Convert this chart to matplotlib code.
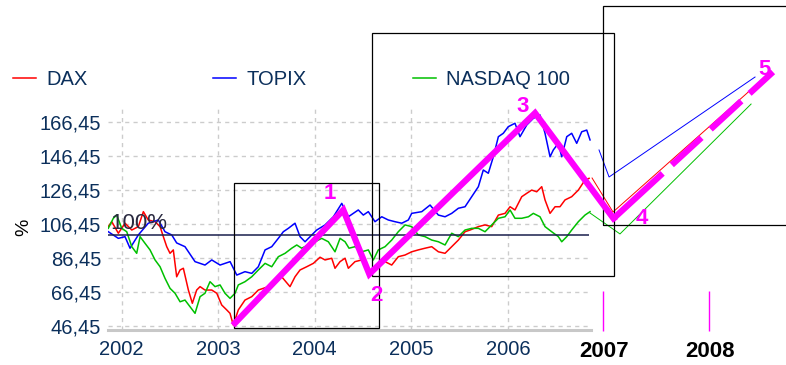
import matplotlib.pyplot as plt
from matplotlib.lines import Line2D
from matplotlib.patches import Rectangle

plt.rcParams['font.family'] = ['Liberation Sans', 'DejaVu Sans']
plt.rcParams['lines.scale_dashes'] = False

# ===================== data (decimal year, % of start) =====================
topix_t = [2001.863, 2001.967, 2002.036, 2002.088, 2002.174, 2002.277, 2002.381, 2002.450, 2002.520,
           2002.571, 2002.657, 2002.761, 2002.864, 2002.934, 2003.020, 2003.124, 2003.193, 2003.278,
           2003.348, 2003.416, 2003.486, 2003.555, 2003.623, 2003.675, 2003.727, 2003.796, 2003.848,
           2003.900, 2003.969, 2004.021, 2004.107, 2004.193, 2004.280, 2004.348, 2004.451, 2004.503,
           2004.555, 2004.624, 2004.694, 2004.762, 2004.831, 2004.901, 2004.969, 2005.004, 2005.108,
           2005.194, 2005.280, 2005.349, 2005.418, 2005.487, 2005.556, 2005.625, 2005.694, 2005.745,
           2005.797, 2005.849, 2005.901, 2005.952, 2006.004, 2006.073, 2006.125, 2006.195, 2006.263,
           2006.332, 2006.384, 2006.436, 2006.470, 2006.522, 2006.557, 2006.609, 2006.660, 2006.712,
           2006.764, 2006.816, 2006.850]
topix_v = [101.9, 98.0, 99.0, 92.2, 100.0, 106.9, 108.8, 101.9, 100.0,
           95.3, 93.1, 84.3, 82.3, 85.3, 82.3, 84.3, 76.4, 78.4,
           77.4, 81.3, 91.2, 93.1, 98.0, 101.9, 103.9, 106.9, 99.0,
           96.0, 100.0, 102.9, 105.9, 110.7, 118.6, 110.7, 114.7, 111.7,
           113.7, 107.8, 110.7, 108.8, 107.8, 106.9, 108.8, 112.7, 113.7,
           117.6, 111.7, 110.7, 112.7, 115.7, 116.6, 122.5, 128.4, 138.2,
           136.3, 146.0, 157.8, 159.8, 163.7, 165.7, 157.8, 164.7, 168.6,
           170.6, 159.8, 146.0, 150.0, 153.9, 146.0, 157.8, 159.8, 153.9,
           160.7, 161.7, 155.9]

dax_t = [2001.863, 2001.899, 2001.967, 2002.036, 2002.106, 2002.174, 2002.226, 2002.277, 2002.347,
         2002.399, 2002.433, 2002.468, 2002.502, 2002.536, 2002.571, 2002.606, 2002.640, 2002.692,
         2002.733, 2002.778, 2002.813, 2002.864, 2002.934, 2002.986, 2003.037, 2003.089, 2003.123,
         2003.157, 2003.209, 2003.278, 2003.348, 2003.416, 2003.520, 2003.589, 2003.658, 2003.744,
         2003.796, 2003.848, 2003.917, 2003.986, 2004.055, 2004.107, 2004.176, 2004.210, 2004.262,
         2004.314, 2004.348, 2004.417, 2004.487, 2004.555, 2004.590, 2004.658, 2004.728, 2004.797,
         2004.865, 2004.935, 2005.004, 2005.072, 2005.142, 2005.211, 2005.280, 2005.349, 2005.418,
         2005.487, 2005.556, 2005.608, 2005.694, 2005.763, 2005.832, 2005.901, 2005.970, 2006.022,
         2006.073, 2006.143, 2006.195, 2006.246, 2006.298, 2006.350, 2006.384, 2006.436, 2006.488,
         2006.539, 2006.591, 2006.660, 2006.729, 2006.798, 2006.840]
dax_v = [104.9, 107.8, 101.0, 106.9, 102.9, 104.9, 113.7, 108.8, 107.8,
         104.9, 99.0, 93.1, 89.2, 91.2, 75.4, 79.4, 80.4, 67.6,
         59.8, 67.6, 69.6, 67.6, 67.6, 65.7, 58.8, 55.9, 53.9,
         47.0, 55.9, 61.7, 63.7, 67.6, 69.6, 72.5, 75.4, 69.6,
         75.4, 79.4, 81.3, 83.3, 86.9, 85.3, 86.3, 80.4, 84.3,
         86.3, 80.4, 84.3, 85.3, 80.4, 77.4, 83.3, 84.3, 82.3,
         87.2, 88.2, 90.1, 91.2, 92.2, 93.1, 90.1, 89.2, 93.1,
         97.0, 101.9, 102.9, 104.9, 105.9, 104.9, 111.7, 112.7, 116.6,
         114.7, 122.5, 124.5, 126.4, 125.4, 128.4, 120.6, 112.7, 116.6,
         116.6, 120.6, 122.5, 126.4, 132.3, 133.3]

nasdaq_t = [2001.863, 2001.915, 2001.950, 2002.002, 2002.054, 2002.106, 2002.157, 2002.192, 2002.243,
            2002.295, 2002.347, 2002.399, 2002.450, 2002.502, 2002.554, 2002.606, 2002.657, 2002.709,
            2002.761, 2002.813, 2002.864, 2002.916, 2002.968, 2003.020, 2003.071, 2003.123, 2003.175,
            2003.209, 2003.278, 2003.348, 2003.416, 2003.486, 2003.555, 2003.623, 2003.693, 2003.762,
            2003.814, 2003.865, 2003.934, 2004.003, 2004.072, 2004.141, 2004.210, 2004.262, 2004.314,
            2004.355, 2004.417, 2004.487, 2004.555, 2004.607, 2004.658, 2004.728, 2004.797, 2004.865,
            2004.935, 2005.004, 2005.072, 2005.142, 2005.211, 2005.280, 2005.349, 2005.418, 2005.487,
            2005.556, 2005.625, 2005.694, 2005.763, 2005.832, 2005.901, 2005.970, 2006.022, 2006.073,
            2006.143, 2006.212, 2006.263, 2006.332, 2006.384, 2006.453, 2006.522, 2006.557, 2006.609,
            2006.660, 2006.729, 2006.798, 2006.850]
nasdaq_v = [103.9, 109.8, 111.7, 103.9, 101.9, 93.1, 89.2, 99.0, 95.1,
            91.2, 85.3, 81.3, 74.5, 68.6, 65.7, 60.7, 61.7, 57.8,
            53.9, 63.7, 65.7, 72.5, 69.6, 70.6, 65.7, 62.7, 65.7,
            70.6, 72.5, 75.4, 79.4, 83.3, 81.3, 87.2, 89.2, 92.2,
            94.1, 92.2, 94.1, 96.0, 98.0, 96.0, 90.1, 98.0, 96.0,
            92.2, 93.1, 90.1, 91.2, 85.3, 91.2, 93.1, 97.0, 101.9,
            105.9, 104.9, 100.0, 99.0, 97.0, 96.0, 94.1, 101.0, 99.0,
            102.9, 103.9, 103.9, 101.9, 105.9, 109.8, 110.7, 114.7, 109.8,
            109.8, 110.7, 112.7, 110.7, 104.9, 101.9, 99.0, 96.0, 99.0,
            102.9, 107.8, 111.7, 113.7]

# hand drawn projections after the data end
topix_proj_t = [2006.943, 2007.047, 2008.558]
topix_proj_v = [150.0, 134.1, 192.9]
dax_proj_t = [2006.871, 2007.088, 2008.558]
dax_proj_v = [133.5, 113.5, 187.6]
nasdaq_proj_t = [2006.850, 2007.160, 2008.517]
nasdaq_proj_v = [112.9, 100.6, 177.0]

# Elliott waves
wave_t = [2003.175, 2004.296, 2004.565, 2006.281, 2007.093, 2008.744]
wave_v = [48.2, 114.7, 77.0, 171.7, 109.7, 195.9]
wave_labels = ['', '1', '2', '3', '4', '5']

# boxes: (t0, t1, v0, v1)
boxes = [(2003.165, 2004.666, 45.3, 130.4),
         (2004.588, 2007.098, 76.0, 218.6),
         (2006.988, 2009.2, 105.7, 234.5)]

future_years = ['2007', '2008']
future_x = [2006.98, 2008.08]

yticks = [46.45, 66.45, 86.45, 106.45, 126.45, 146.45, 166.45]
xticks = [2002, 2003, 2004, 2005, 2006]

NAVY = '#0b2f5b'
MAG = '#ff00ff'

# ===================== figure =====================
fig = plt.figure(figsize=(7.86, 3.65), dpi=100)
ax = fig.add_axes([108 / 786, 35 / 365, 483 / 786, 222 / 365])
ax.set_xlim(2001.86, 2006.86)
ax.set_ylim(44.09, 174.68)

ax.set_yticks(yticks)
ax.set_yticklabels([f'{v:.2f}'.replace('.', ',') for v in yticks])
ax.set_xticks(xticks)
ax.set_xticklabels([str(y) for y in xticks])
ax.tick_params(length=0, labelsize=14.5, labelcolor=NAVY)
ax.tick_params(axis='x', pad=7)
ax.tick_params(axis='y', pad=5)
ax.grid(True, color='#cccccc', linestyle=(0, (3, 3)), lw=1)
ax.set_axisbelow(True)
for s in ['top', 'right', 'left']:
    ax.spines[s].set_visible(False)
ax.spines['bottom'].set_color('#c8c8c8')
ax.spines['bottom'].set_linewidth(2.2)

ax.set_ylabel('%', fontsize=14, color='black')
ax.yaxis.set_label_coords(-0.157, 0.464)

# series
series = [('DAX', dax_t, dax_v, dax_proj_t, dax_proj_v, '#ff0000'),
          ('TOPIX', topix_t, topix_v, topix_proj_t, topix_proj_v, '#0000ff'),
          ('NASDAQ 100', nasdaq_t, nasdaq_v, nasdaq_proj_t, nasdaq_proj_v, '#00c000')]
for name, t, v, pt, pv, c in series:
    ax.plot(t, v, color=c, lw=1.1, zorder=2)
    ax.plot(pt, pv, color=c, lw=0.7, zorder=2, clip_on=False)

ax.hlines(100, min(dax_t), max(dax_t), color='#1a1f4d', lw=1.1, zorder=3)
ax.text(2002.176, 106.5, '100%', fontsize=16, color='#2a2a40',
        ha='center', va='center', zorder=5)

for t0, t1, v0, v1 in boxes:
    ax.add_patch(Rectangle((t0, v0), t1 - t0, v1 - v0, fill=False, ec='black',
                           lw=0.9, zorder=3, clip_on=False))

# waves
ax.plot(wave_t[:5], wave_v[:5], color=MAG, lw=4.5, solid_joinstyle='miter',
        zorder=4, clip_on=False)
ax.plot(wave_t[4:], wave_v[4:], color=MAG, lw=4.5, zorder=4, clip_on=False,
        linestyle=(0, (48, 9, 29, 9, 30, 8, 60, 10)))
offsets = [(0, 0), (-9.4, 13.7), (4.8, -13.7), (-8.6, 6.5), (20.5, 1.8), (-5.8, 3.6)]
for t, v, lab, off in zip(wave_t, wave_v, wave_labels, offsets):
    if lab:
        ax.annotate(lab, (t, v), xytext=off, textcoords='offset points', color=MAG,
                    fontsize=16, fontweight='bold', ha='center', va='center_baseline',
                    annotation_clip=False, zorder=6)

# future year marks
for x, lab in zip(future_x, future_years):
    ax.vlines(x, 43.5, 67.0, color=MAG, lw=1, clip_on=False)
    ax.annotate(lab, (x, 43.5), xytext=(1, -7), textcoords='offset points',
                fontsize=16, fontweight='bold', color='black', ha='center', va='top',
                annotation_clip=False)

# legend
for i, (name, t, v, pt, pv, c) in enumerate(series):
    x0 = (13 + 200 * i) / 786
    y0 = 1 - 78 / 365
    fig.add_artist(Line2D([x0, x0 + 23 / 786], [y0, y0], color=c, lw=1.1))
    fig.text(x0 + 33 / 786, 1 - 85 / 365, name, color=NAVY, fontsize=14.5, va='baseline')

fig.savefig('out.png', dpi=100)
